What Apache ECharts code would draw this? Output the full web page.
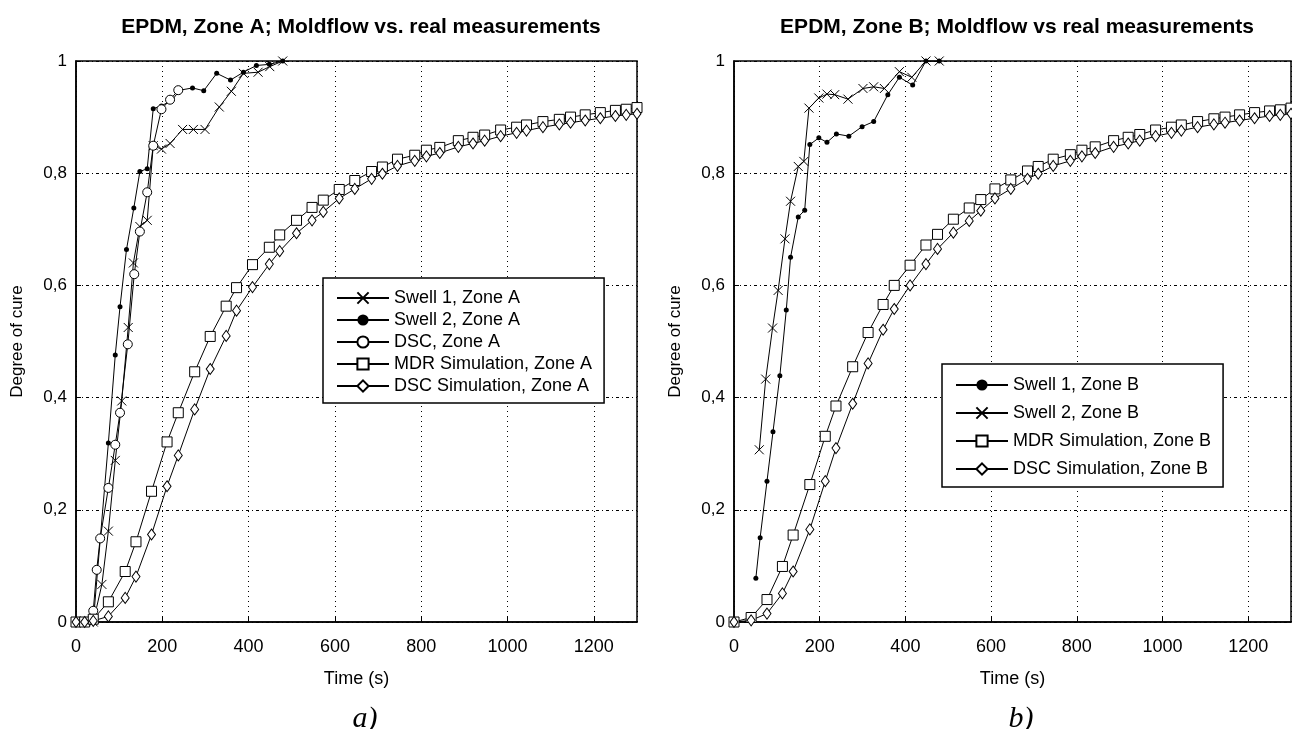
<!DOCTYPE html>
<html>
<head>
<meta charset="utf-8">
<script src="https://cdn.jsdelivr.net/npm/echarts@6/dist/echarts.min.js"></script>
<style>
  html, body { margin: 0; padding: 0; background: #fff; }
  #main { width: 1292px; height: 729px; }
</style>
</head>
<body>
<div id="main"></div>
<script>
// ---- zone A (left) ----
const swell1A_t = [0, 40, 60, 75, 91, 106, 121, 133, 148, 165, 179, 198, 218, 247, 272, 299, 332, 360, 388, 422, 449, 479]
const swell1A_v = [0, 0, 0.067, 0.162, 0.288, 0.394, 0.525, 0.64, 0.705, 0.716, 0.849, 0.843, 0.853, 0.878, 0.878, 0.878, 0.918, 0.946, 0.978, 0.98, 0.99, 1.0]
const swell2A_t = [0, 40, 75, 91, 102, 117, 134, 148, 165, 179, 198, 222, 241, 270, 296, 326, 358, 388, 418, 448, 479]
const swell2A_v = [0, 0, 0.319, 0.476, 0.562, 0.664, 0.738, 0.803, 0.808, 0.915, 0.92, 0.93, 0.948, 0.952, 0.947, 0.978, 0.966, 0.98, 0.992, 0.994, 1.0]
const dscA_t = [0, 20, 40, 48, 56, 75, 91, 102, 120, 135, 148, 165, 179, 198, 218, 237]
const dscA_v = [0, 0, 0.02, 0.093, 0.149, 0.239, 0.316, 0.373, 0.495, 0.62, 0.696, 0.766, 0.849, 0.914, 0.931, 0.948]
const simA_t = [0, 20, 40, 75, 114, 139, 175, 211, 237, 275, 311, 348, 372, 409, 448, 472, 511, 547, 573, 610, 646, 685, 710, 745, 785, 812, 843, 886, 920, 947, 984, 1021, 1044, 1082, 1120, 1146, 1180, 1215, 1250, 1275, 1300]
const mdrSimA_v = [0, 0, 0.005, 0.036, 0.09, 0.143, 0.233, 0.321, 0.373, 0.446, 0.509, 0.563, 0.596, 0.637, 0.668, 0.69, 0.716, 0.739, 0.752, 0.771, 0.787, 0.803, 0.811, 0.825, 0.832, 0.841, 0.846, 0.858, 0.864, 0.868, 0.877, 0.882, 0.886, 0.892, 0.896, 0.9, 0.904, 0.908, 0.912, 0.914, 0.917]
const dscSimA_v = [0, 0, 0.002, 0.01, 0.043, 0.081, 0.156, 0.242, 0.297, 0.379, 0.451, 0.51, 0.555, 0.597, 0.638, 0.661, 0.693, 0.716, 0.731, 0.755, 0.772, 0.79, 0.799, 0.813, 0.822, 0.83, 0.836, 0.847, 0.853, 0.858, 0.866, 0.872, 0.876, 0.882, 0.887, 0.89, 0.894, 0.898, 0.902, 0.904, 0.906]

// ---- zone B (right) ----
const swell1B_t = [51, 61, 77, 91, 107, 122, 132, 150, 165, 177, 198, 217, 239, 268, 299, 326, 359, 386, 417, 448, 479]
const swell1B_v = [0.078, 0.15, 0.251, 0.339, 0.439, 0.556, 0.65, 0.722, 0.734, 0.851, 0.863, 0.855, 0.87, 0.866, 0.883, 0.892, 0.94, 0.971, 0.957, 1.0, 1.0]
const swell2B_t = [59, 74, 90, 103, 119, 132, 150, 163, 175, 198, 217, 235, 266, 301, 326, 351, 386, 415, 448, 479]
const swell2B_v = [0.307, 0.433, 0.524, 0.591, 0.683, 0.75, 0.812, 0.821, 0.916, 0.934, 0.941, 0.94, 0.932, 0.951, 0.954, 0.951, 0.981, 0.971, 1.0, 1.0]
const simB_t = [0, 40, 77, 113, 138, 177, 213, 238, 277, 313, 348, 374, 411, 448, 475, 512, 549, 576, 609, 646, 685, 710, 745, 785, 812, 843, 886, 920, 947, 984, 1021, 1044, 1082, 1120, 1146, 1180, 1215, 1250, 1275, 1300]
const mdrSimB_v = [0, 0.008, 0.04, 0.099, 0.155, 0.245, 0.331, 0.385, 0.455, 0.516, 0.566, 0.6, 0.636, 0.672, 0.691, 0.718, 0.738, 0.753, 0.772, 0.788, 0.804, 0.812, 0.825, 0.833, 0.841, 0.847, 0.858, 0.864, 0.869, 0.877, 0.882, 0.886, 0.892, 0.897, 0.9, 0.904, 0.908, 0.911, 0.913, 0.916]
const dscSimB_v = [0, 0.003, 0.015, 0.051, 0.09, 0.165, 0.251, 0.31, 0.389, 0.461, 0.521, 0.558, 0.6, 0.638, 0.665, 0.694, 0.715, 0.733, 0.755, 0.772, 0.79, 0.799, 0.813, 0.822, 0.83, 0.836, 0.847, 0.853, 0.858, 0.866, 0.872, 0.876, 0.882, 0.887, 0.89, 0.894, 0.898, 0.902, 0.904, 0.906]

const xTicks = [0, 200, 400, 600, 800, 1000, 1200]

const pairs = (t, v) => t.map((x, i) => [x, v[i]])

// marker styles (matlab-ish)
const CROSS = 'path://M0,0L10,10M10,0L0,10'
const mk = {
  cross: { symbol: CROSS, symbolSize: 9, itemStyle: { color: 'transparent', borderColor: '#000', borderWidth: 1 } },
  dot: { symbol: 'circle', symbolSize: 5, itemStyle: { color: '#000', borderColor: '#000', borderWidth: 0 } },
  circle: { symbol: 'circle', symbolSize: 9, itemStyle: { color: '#fff', borderColor: '#000', borderWidth: 1 } },
  square: { symbol: 'rect', symbolSize: 10, itemStyle: { color: '#fff', borderColor: '#000', borderWidth: 1 } },
  diamond: { symbol: 'diamond', symbolSize: [8, 11], itemStyle: { color: '#fff', borderColor: '#000', borderWidth: 1 } }
}

function line(name, idx, data, style) {
  return Object.assign({
    name: name,
    type: 'line',
    xAxisIndex: idx,
    yAxisIndex: idx,
    data: data,
    showSymbol: true,
    showAllSymbol: true,
    lineStyle: { color: '#000', width: 1 },
    emphasis: { disabled: true },
    animation: false
  }, style)
}

const FONT = 'Arial, "Liberation Sans", sans-serif'

function xAxis(idx) {
  return {
    gridIndex: idx,
    type: 'value',
    min: 0,
    max: 1300,
    interval: 200,
    name: 'Time (s)',
    nameLocation: 'middle',
    nameGap: 48,
    nameTextStyle: { fontFamily: FONT, fontSize: 18, color: '#000' },
    axisLine: { show: true, lineStyle: { color: '#000', width: 1.5 } },
    axisTick: { show: true, inside: true, length: 5, lineStyle: { color: '#000' } },
    axisLabel: {
      fontFamily: FONT, fontSize: 18, color: '#000', margin: 16, showMaxLabel: false,
      formatter: (v) => (xTicks.indexOf(v) >= 0 ? String(v) : '')
    },
    splitLine: { show: true, lineStyle: { color: '#000', width: 1, type: [1, 4] } }
  }
}

function yAxis(idx) {
  return {
    gridIndex: idx,
    type: 'value',
    min: 0,
    max: 1,
    interval: 0.2,
    name: 'Degree of cure',
    nameLocation: 'middle',
    nameGap: 50,
    nameTextStyle: { fontFamily: FONT, fontSize: 17, color: '#000' },
    axisLine: { show: true, lineStyle: { color: '#000', width: 1.5 } },
    axisTick: { show: true, inside: true, length: 5, lineStyle: { color: '#000' } },
    axisLabel: {
      fontFamily: FONT, fontSize: 17, color: '#000', margin: 9,
      formatter: (v) => String(Math.round(v * 10) / 10).replace('.', ',')
    },
    splitLine: { show: true, lineStyle: { color: '#000', width: 1, type: [3, 3, 1, 3] } }
  }
}

const legendBase = {
  orient: 'vertical',
  backgroundColor: '#fff',
  borderColor: '#000',
  borderWidth: 1.5,
  borderRadius: 0,
  itemWidth: 52,
  itemHeight: 14,
  textStyle: { fontFamily: FONT, fontSize: 18, lineHeight: 18, color: '#000' },
  selectedMode: false
}

const chart = echarts.init(document.getElementById('main'))
chart.setOption({
  backgroundColor: '#fff',
  animation: false,
  title: [
    { text: 'EPDM, Zone A; Moldflow vs. real measurements', left: 356, top: 12, textAlign: 'center',
      textStyle: { fontFamily: FONT, fontSize: 21, fontWeight: 'bold', color: '#000' } },
    { text: 'EPDM, Zone B; Moldflow vs real measurements', left: 1012, top: 12, textAlign: 'center',
      textStyle: { fontFamily: FONT, fontSize: 21, fontWeight: 'bold', color: '#000' } },
    { text: 'a)', left: 360, top: 699, textAlign: 'center',
      textStyle: { fontFamily: '"Liberation Serif", "DejaVu Serif", serif', fontStyle: 'italic', fontWeight: 'normal', fontSize: 30, color: '#000' } },
    { text: 'b)', left: 1016, top: 699, textAlign: 'center',
      textStyle: { fontFamily: '"Liberation Serif", "DejaVu Serif", serif', fontStyle: 'italic', fontWeight: 'normal', fontSize: 30, color: '#000' } }
  ],
  grid: [
    { left: 76, top: 61, width: 561, height: 561, show: true, borderColor: '#000', borderWidth: 1.5, backgroundColor: '#fff' },
    { left: 734, top: 61, width: 557, height: 561, show: true, borderColor: '#000', borderWidth: 1.5, backgroundColor: '#fff' }
  ],
  xAxis: [xAxis(0), xAxis(1)],
  yAxis: [yAxis(0), yAxis(1)],
  legend: [
    Object.assign({}, legendBase, {
      left: 323, top: 278, itemGap: 4, padding: [11, 12, 8, 13],
      data: ['Swell 1, Zone A', 'Swell 2, Zone A', 'DSC, Zone A', 'MDR Simulation, Zone A', 'DSC Simulation, Zone A']
    }),
    Object.assign({}, legendBase, {
      left: 942, top: 364, itemGap: 10, padding: [12, 12, 9, 13],
      data: ['Swell 1, Zone B', 'Swell 2, Zone B', 'MDR Simulation, Zone B', 'DSC Simulation, Zone B']
    })
  ],
  series: [
    line('Swell 1, Zone A', 0, pairs(swell1A_t, swell1A_v), mk.cross),
    line('Swell 2, Zone A', 0, pairs(swell2A_t, swell2A_v), mk.dot),
    line('DSC, Zone A', 0, pairs(dscA_t, dscA_v), mk.circle),
    line('MDR Simulation, Zone A', 0, pairs(simA_t, mdrSimA_v), mk.square),
    line('DSC Simulation, Zone A', 0, pairs(simA_t, dscSimA_v), mk.diamond),
    line('Swell 1, Zone B', 1, pairs(swell1B_t, swell1B_v), mk.dot),
    line('Swell 2, Zone B', 1, pairs(swell2B_t, swell2B_v), mk.cross),
    line('MDR Simulation, Zone B', 1, pairs(simB_t, mdrSimB_v), mk.square),
    line('DSC Simulation, Zone B', 1, pairs(simB_t, dscSimB_v), mk.diamond)
  ]
})
window.onresize = chart.resize
</script>
</body>
</html>
